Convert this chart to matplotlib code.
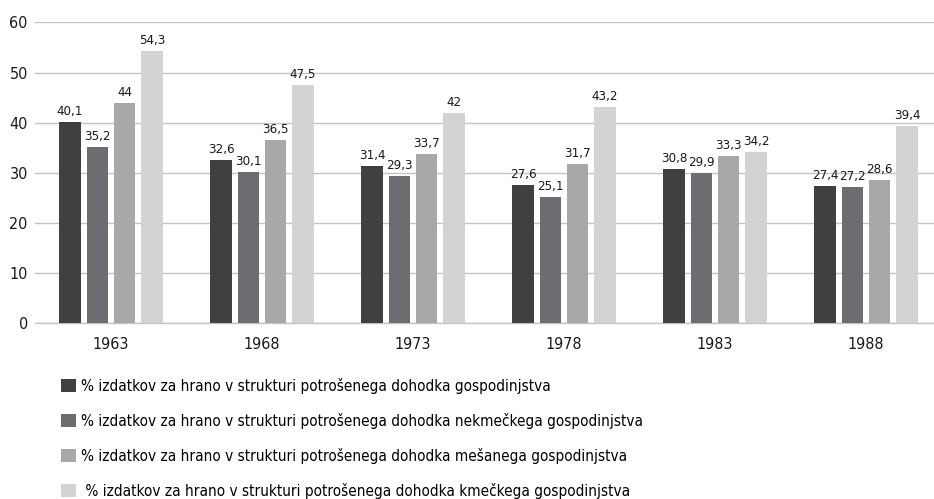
import numpy as np
import matplotlib
matplotlib.use("Agg")
import matplotlib.pyplot as plt
from matplotlib.patches import Patch

years = ["1963", "1968", "1973", "1978", "1983", "1988"]
skupaj = [40.1, 32.6, 31.4, 27.6, 30.8, 27.4]
nekmecka = [35.2, 30.1, 29.3, 25.1, 29.9, 27.2]
mesana = [44.0, 36.5, 33.7, 31.7, 33.3, 28.6]
kmecka = [54.3, 47.5, 42.0, 43.2, 34.2, 39.4]
labels = [
    "% izdatkov za hrano v strukturi potrošenega dohodka gospodinjstva",
    "% izdatkov za hrano v strukturi potrošenega dohodka nekmečkega gospodinjstva",
    "% izdatkov za hrano v strukturi potrošenega dohodka mešanega gospodinjstva",
    " % izdatkov za hrano v strukturi potrošenega dohodka kmečkega gospodinjstva",
]
colors = ["#404042", "#6c6d70", "#a7a8aa", "#d2d3d5"]

plt.rcParams["font.family"] = "DejaVu Sans"
plt.rcParams["font.stretch"] = "condensed"

fig = plt.figure(figsize=(9.34, 4.99), dpi=100)
ax = fig.add_axes([0.038, 0.352, 0.970, 0.603])

series = [skupaj, nekmecka, mesana, kmecka]
x = np.arange(len(years))
step = 0.181
width = 0.143
for i, (vals, c) in enumerate(zip(series, colors)):
    pos = x + (i - 1.5) * step
    bars = ax.bar(pos, vals, width, color=c, zorder=3, label=labels[i])
    ax.bar_label(bars, labels=[f"{v:g}".replace(".", ",") for v in vals],
                 padding=3, fontsize=9.5, color="#1a1a1a")

ax.set_xlim(-0.5, len(years) - 0.5)
ax.set_ylim(0, 60)
ax.set_yticks(range(0, 61, 10))
ax.set_xticks(x)
ax.set_xticklabels(years)
ax.yaxis.grid(True, color="#c4c4c4", linewidth=1.0, zorder=0)
ax.tick_params(axis="both", length=0, labelsize=11.5, colors="#1a1a1a")
ax.tick_params(axis="x", pad=10)
ax.tick_params(axis="y", pad=5.5)
for s in ["top", "right", "left"]:
    ax.spines[s].set_visible(False)
ax.spines["bottom"].set_color("#c4c4c4")
ax.spines["bottom"].set_linewidth(1.0)

handles = [Patch(facecolor=c) for c in colors]
fig.legend(handles, labels, loc="upper left", bbox_to_anchor=(0.0653, 0.243),
           frameon=False, fontsize=11, labelspacing=1.25,
           handlelength=1.0, handleheight=0.95, handletextpad=0.3,
           borderaxespad=0, borderpad=0)

fig.savefig("out.png", dpi=100)
